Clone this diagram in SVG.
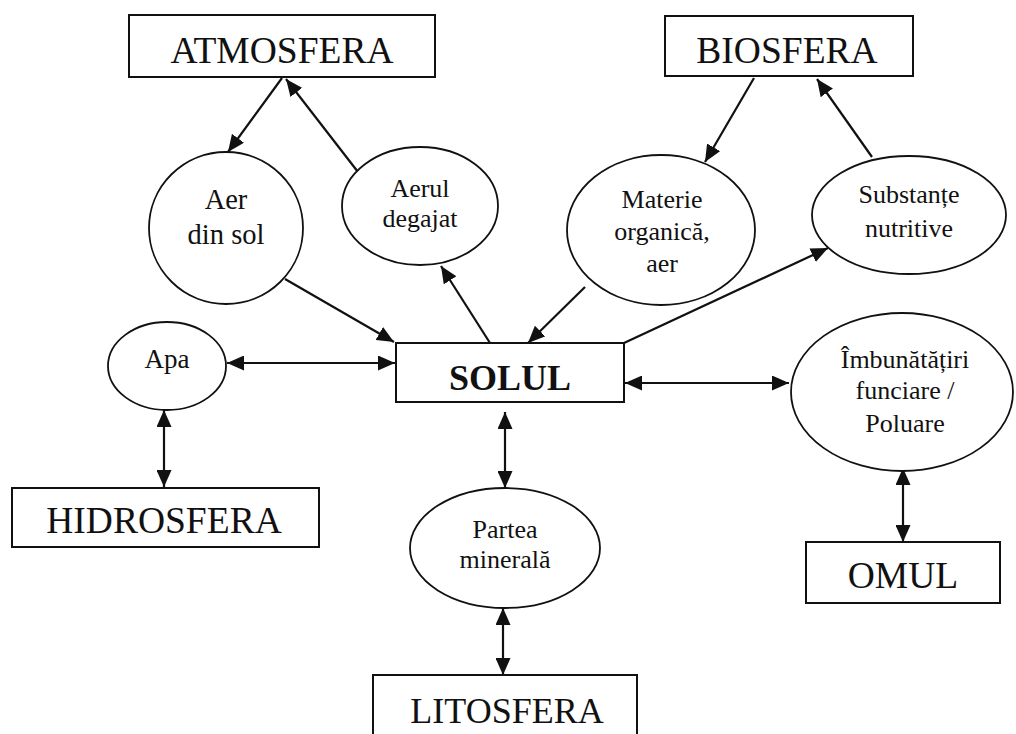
<svg xmlns="http://www.w3.org/2000/svg" width="1016" height="734" viewBox="0 0 1016 734">
<style>
.box{fill:#fff;stroke:#111;stroke-width:2}
.ell{fill:#fff;stroke:#111;stroke-width:1.8}
.big{font-family:"Liberation Serif","Times New Roman",serif;font-size:37.5px;fill:#111;text-anchor:middle}
.sm{font-family:"Liberation Serif","Times New Roman",serif;font-size:26px;fill:#111;text-anchor:middle}
.con line{stroke:#111;stroke-width:2.2;fill:none}
</style>
<defs>
<marker id="ah" viewBox="0 0 17 15" refX="17" refY="7.5" markerWidth="17" markerHeight="15" markerUnits="userSpaceOnUse" orient="auto-start-reverse">
<path d="M0,0 L17,7.5 L0,15 z" fill="#111"/>
</marker>
</defs>
<rect width="1016" height="734" fill="#fff"/>
<g id="connectors" class="con">
<line x1="282" y1="78" x2="228" y2="152" marker-end="url(#ah)"/>
<line x1="358" y1="172" x2="286" y2="79" marker-end="url(#ah)"/>
<line x1="285" y1="279" x2="394" y2="342" marker-end="url(#ah)"/>
<line x1="490" y1="343" x2="441" y2="266" marker-end="url(#ah)"/>
<line x1="754" y1="78" x2="705" y2="162" marker-end="url(#ah)"/>
<line x1="872" y1="157" x2="817" y2="79" marker-end="url(#ah)"/>
<line x1="585" y1="287" x2="528" y2="343" marker-end="url(#ah)"/>
<line x1="624" y1="343" x2="828" y2="248" marker-end="url(#ah)"/>
<line x1="227" y1="363" x2="395" y2="363" marker-start="url(#ah)" marker-end="url(#ah)"/>
<line x1="164" y1="410" x2="164" y2="487" marker-start="url(#ah)" marker-end="url(#ah)"/>
<line x1="505" y1="412" x2="505" y2="488" marker-start="url(#ah)" marker-end="url(#ah)"/>
<line x1="503" y1="608" x2="503" y2="675" marker-start="url(#ah)" marker-end="url(#ah)"/>
<line x1="625" y1="383" x2="789" y2="383" marker-start="url(#ah)" marker-end="url(#ah)"/>
<line x1="903" y1="468" x2="903" y2="542" marker-start="url(#ah)" marker-end="url(#ah)"/>
</g>
<g id="atmosfera"><rect class="box" x="129" y="15" width="306" height="62"/><text class="big" x="282" y="63">ATMOSFERA</text></g>
<g id="biosfera"><rect class="box" x="665" y="16" width="248" height="60"/><text class="big" x="787" y="63">BIOSFERA</text></g>
<g id="aer-din-sol"><ellipse class="ell" cx="226" cy="228" rx="77" ry="76"/><text class="sm" x="226" y="209" style="font-size:28.5px">Aer</text><text class="sm" x="226" y="244" style="font-size:28.5px">din sol</text></g>
<g id="aerul-degajat"><ellipse class="ell" cx="420" cy="206" rx="78" ry="59"/><text class="sm" x="420" y="197">Aerul</text><text class="sm" x="420" y="227">degajat</text></g>
<g id="materie"><ellipse class="ell" cx="661" cy="230" rx="94" ry="75"/><text class="sm" x="662" y="208">Materie</text><text class="sm" x="662" y="240">organică,</text><text class="sm" x="662" y="272">aer</text></g>
<g id="substante"><ellipse class="ell" cx="909" cy="215" rx="97" ry="59"/><text class="sm" x="909" y="203">Substanțe</text><text class="sm" x="909" y="237">nutritive</text></g>
<g id="apa"><ellipse class="ell" cx="167" cy="366" rx="59" ry="44"/><text class="sm" x="167" y="368" style="font-size:27px">Apa</text></g>
<g id="solul"><rect class="box" x="396" y="343" width="228" height="59"/><text class="big" x="510" y="390" style="font-weight:bold;font-size:36px">SOLUL</text></g>
<g id="imbunatatiri"><ellipse class="ell" cx="902" cy="392" rx="111" ry="79"/><text class="sm" x="905" y="368">Îmbunătățiri</text><text class="sm" x="905" y="399">funciare /</text><text class="sm" x="905" y="432">Poluare</text></g>
<g id="hidrosfera"><rect class="box" x="12" y="488" width="307" height="59"/><text class="big" x="164" y="533">HIDROSFERA</text></g>
<g id="partea"><ellipse class="ell" cx="505" cy="548" rx="95" ry="60"/><text class="sm" x="505" y="538">Partea</text><text class="sm" x="505" y="568">minerală</text></g>
<g id="omul"><rect class="box" x="806" y="542" width="194" height="61"/><text class="big" x="903" y="588">OMUL</text></g>
<g id="litosfera"><rect class="box" x="373" y="675" width="264" height="75"/><text class="big" x="507" y="723" style="font-size:36px">LITOSFERA</text></g>
</svg>
